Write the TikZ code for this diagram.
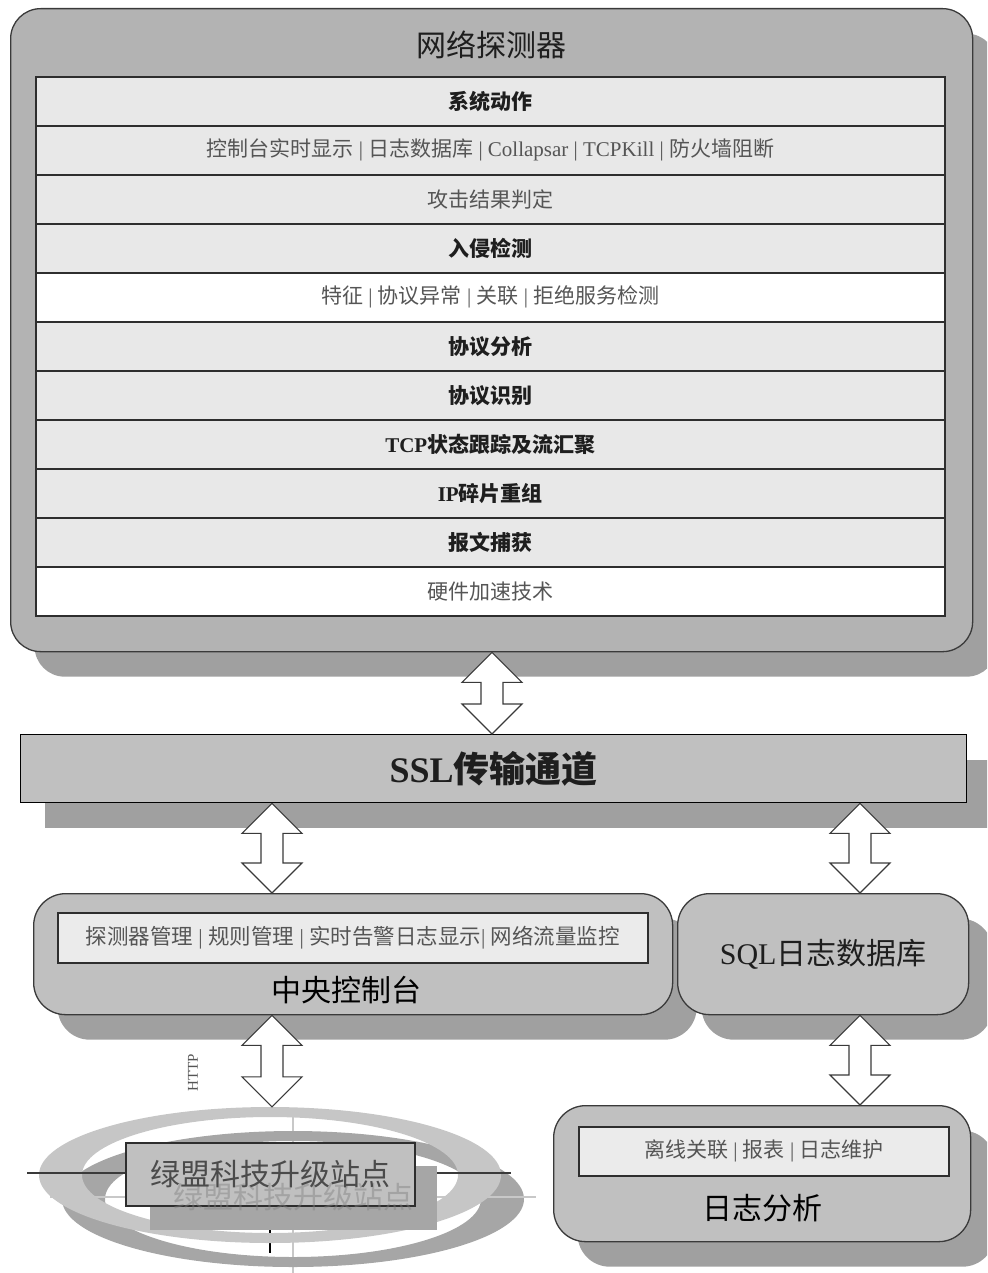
\documentclass[tikz,border=0pt]{standalone}
\usepackage{fontspec}
\setmainfont{Liberation Serif}
\newfontfamily\cjk{Noto Sans CJK SC}
\usetikzlibrary{shadows,calc,shapes.geometric}
\definecolor{boxgrey}{HTML}{B3B3B3}
\definecolor{shadowgrey}{HTML}{A0A0A0}
\definecolor{midgrey}{HTML}{C0C0C0}
\definecolor{rowgrey}{HTML}{E8E8E8}
\definecolor{innergrey}{HTML}{EBEBEB}
\definecolor{linecol}{HTML}{3A3A3A}
\definecolor{rowline}{HTML}{2E2E2E}
\definecolor{rowtext}{HTML}{555555}
\definecolor{darktext}{HTML}{1E1E1E}
\definecolor{ringlight}{HTML}{C6C6C6}
\definecolor{ringdark}{HTML}{A6A6A6}
\definecolor{crossgrey}{HTML}{C8C8C8}
\newcommand\Ltn[1]{{\rmfamily #1}}
\newcommand\dblarr[3]{\draw[dblar] (#1,0 |- #2) -- ++(30,30) -- ++(-19,0) -- ($(#1+11,0 |- #3)+(0,-30)$) -- ++(19,0) -- (#1,0 |- #3) -- ++(-30,-30) -- ++(19,0) -- ($(#1-11,0 |- #2)+(0,30)$) -- ++(-19,0) -- cycle;}
\tikzset{
  shd/.style={general shadow={fill=shadowgrey, shadow xshift=24pt, shadow yshift=-25pt}},
  bigbox/.style={draw=linecol, line width=1.3pt, fill=boxgrey, rounded corners=30pt, anchor=north west, inner sep=0pt, shd},
  midbox/.style={draw=linecol, line width=1.3pt, fill=midgrey, rounded corners=32pt, anchor=north west, inner sep=0pt, shd},
  sslbox/.style={draw=black, line width=1.3pt, fill=midgrey, anchor=north west, inner sep=0pt, shd},
  innerbox/.style={draw=rowline, line width=1.5pt, fill=innergrey, anchor=north west, inner sep=0pt, text=rowtext, font=\fontsize{21}{24}\selectfont},
  row/.style={draw=rowline, line width=1.6pt, fill=rowgrey, anchor=north west, minimum width=909pt, minimum height=49pt, inner sep=0pt, text=rowtext, font=\fontsize{21}{24}\selectfont},
  rowb/.style={row, text=darktext, font=\fontsize{21}{24}\selectfont\bfseries},
  title/.style={text=darktext, inner sep=0pt, font=\fontsize{30}{34}\selectfont},
  dblar/.style={draw=linecol, line width=1.1pt, fill=white, line join=miter},
}
\begin{document}
\begin{tikzpicture}[x=1pt, y=-1pt]
\useasboundingbox (0,0) rectangle (987,1273);
\clip (0,0) rectangle (987,1273);

% ---------- network detector ----------
\node[bigbox, minimum width=962pt, minimum height=643pt] (det) at (10,8) {};
\node[title] (dettitle) at (491,45) {\cjk 网络探测器};
\node[rowb] (r1) at (35,76) {\cjk 系统动作};
\node[row] (r2) at (35,125) {\cjk 控制台实时显示\Ltn{ | }日志数据库\Ltn{ | Collapsar | TCPKill | }防火墙阻断};
\node[row] (r3) at (35,174) {\cjk 攻击结果判定};
\node[rowb] (r4) at (35,223) {\cjk 入侵检测};
\node[row, fill=white] (r5) at (35,272) {\cjk 特征\Ltn{ | }协议异常\Ltn{ | }关联\Ltn{ | }拒绝服务检测};
\node[rowb] (r6) at (35,321) {\cjk 协议分析};
\node[rowb] (r7) at (35,370) {\cjk 协议识别};
\node[rowb] (r8) at (35,419) {TCP{\cjk 状态跟踪及流汇聚}};
\node[rowb] (r9) at (35,468) {IP{\cjk 碎片重组}};
\node[rowb] (r10) at (35,517) {\cjk 报文捕获};
\node[row, fill=white] (r11) at (35,566) {\cjk 硬件加速技术};

% ---------- SSL channel ----------
\node[sslbox, minimum width=946pt, minimum height=68pt, text=darktext, font=\fontsize{36}{40}\selectfont\bfseries] (ssl) at (20,734) {SSL{\cjk 传输通道}};

% ---------- central console ----------
\node[midbox, minimum width=639pt, minimum height=121pt] (con) at (33,893) {};
\node[innerbox, minimum width=590pt, minimum height=50pt, font=\fontsize{21.5}{24}\selectfont] (coninner) at (57,912) {\cjk 探测器管理\Ltn{ | }规则管理\Ltn{ | }实时告警日志显示\Ltn{| }网络流量监控};
\node[title, text=black] (contitle) at (346,990) {\cjk 中央控制台};

% ---------- SQL log database ----------
\node[midbox, minimum width=291pt, minimum height=121pt, text=darktext, font=\fontsize{30}{34}\selectfont] (sql) at (677,893) {SQL{\cjk 日志数据库}};

% ---------- log analysis ----------
\node[midbox, minimum width=417pt, minimum height=136pt] (log) at (553,1105) {};
\node[innerbox, minimum width=370pt, minimum height=49pt] (loginner) at (578,1126) {\cjk 离线关联\Ltn{ | }报表\Ltn{ | }日志维护};
\node[title, text=black] (logtitle) at (762,1208) {\cjk 日志分析};

% ---------- upgrade site ----------
\node[ellipse, minimum width=462pt, minimum height=136pt, inner sep=0pt] (site) at (270,1175) {};
\draw[crossgrey, line width=1.3pt] (293,1112) -- (293,1273);
\fill[ringdark, even odd rule] (293,1199) ellipse [x radius=231pt, y radius=68pt] (293,1199) ellipse [x radius=188pt, y radius=58pt];
\draw[crossgrey, line width=1.3pt] (50,1197) -- (536,1197);
\draw[black, line width=1.3pt] (270,1205) -- (270,1253);
\fill[ringlight, even odd rule] (270,1175) ellipse [x radius=231pt, y radius=68pt] (270,1175) ellipse [x radius=188pt, y radius=58pt];
\draw[linecol, line width=1.3pt] (27,1173) -- (511,1173);
\fill[ringdark] (150,1166) rectangle (437,1230);
\node[draw=rowline, line width=1.5pt, fill=midgrey, anchor=north west, inner sep=0pt, minimum width=289pt, minimum height=63pt] (sitebox) at (125,1142) {};
\node[text=gray, opacity=0.45, font=\fontsize{30}{34}\selectfont] (siteshadow) at (293,1197) {\cjk 绿盟科技升级站点};
\node[text=darktext!80, font=\fontsize{30}{34}\selectfont] (sitetext) at (sitebox.center) {\cjk 绿盟科技升级站点};
\node[rotate=90, text=rowtext, font=\fontsize{15}{17}\selectfont] (http) at (193,1073) {HTTP};

% ---------- connectors ----------
\dblarr{492}{det.south}{ssl.north}
\dblarr{272}{ssl.south}{con.north}
\dblarr{860}{ssl.south}{sql.north}
\dblarr{272}{con.south}{site.north}
\dblarr{860}{sql.south}{log.north}
\end{tikzpicture}
\end{document}
